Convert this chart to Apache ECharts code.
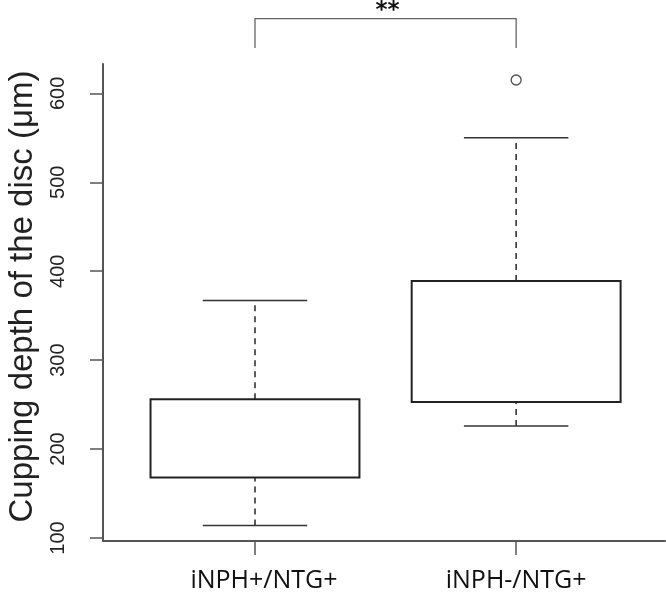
<!DOCTYPE html>
<html>
<head>
<meta charset="utf-8">
<script src="https://cdn.jsdelivr.net/npm/echarts@6/dist/echarts.min.js"></script>
<style>
  html, body { margin: 0; padding: 0; background: #fff; }
  #chart { width: 666px; height: 596px; }
</style>
</head>
<body>
<div id="chart"></div>
<script>
// ---- data ----
const categories = ['iNPH+/NTG+', 'iNPH-/NTG+'];
const lowerWhisker = [114, 226];
const lowerQuartile = [168, 253];
const upperQuartile = [256, 389];
const upperWhisker = [367, 550];
const outlierGroup = [2];        // 1-based group index
const outlierValue = [615];
const yTicks = [100, 200, 300, 400, 500, 600];
const significanceLabel = '**';
const yTitle = 'Cupping depth of the disc (\u03bcm)';

// ---- build series data ----
const boxData = categories.map((c, i) => [i + 1, lowerWhisker[i], lowerQuartile[i], upperQuartile[i], upperWhisker[i]]);
const outlierData = outlierGroup.map((g, i) => [g, outlierValue[i]]);

const BOX_W = 0.8, STAPLE_W = 0.4;

const chart = echarts.init(document.getElementById('chart'), null, { renderer: 'canvas' });

const option = {
  animation: false,
  backgroundColor: '#ffffff',
  grid: { left: 103, top: 64, right: 1, bottom: 55, containLabel: false, outerBoundsMode: 'none' },
  xAxis: {
    type: 'value',
    min: 0.418,
    max: 2.57,
    splitLine: { show: false },
    axisLine: { show: true, onZero: false, lineStyle: { color: '#555', width: 2 } },
    axisTick: { show: true, length: 14, customValues: [1, 2], lineStyle: { color: '#555', width: 1.5 } },
    axisLabel: {
      customValues: [1, 2],
      formatter: v => {
        const i = Math.round(v) - 1;
        return i === 0 ? '{first|' + categories[i] + '}' : (categories[i] || '');
      },
      rich: { first: { fontFamily: 'Open Sans', fontSize: 25, color: '#111', padding: [0, 0, 0, 18] } },
      fontFamily: 'Open Sans',
      fontSize: 25,
      color: '#111',
      margin: 27
    }
  },
  yAxis: {
    type: 'value',
    min: 96.6,
    max: 633,
    splitLine: { show: false },
    axisLine: { show: true, onZero: false, lineStyle: { color: '#555', width: 2 } },
    axisTick: { show: true, length: 13, customValues: yTicks, lineStyle: { color: '#555', width: 1.5 } },
    axisLabel: {
      customValues: yTicks,
      rotate: 90,
      fontFamily: 'Liberation Sans',
      fontSize: 20,
      color: '#222',
      margin: 35
    },
    name: yTitle,
    nameLocation: 'middle',
    nameRotate: 90,
    nameGap: 64,
    nameTextStyle: { fontFamily: 'Liberation Sans', fontSize: 33, color: '#222', padding: [0, 0, 0, 12] }
  },
  series: [
    {
      type: 'custom',
      data: boxData,
      encode: { x: 0, y: [1, 2, 3, 4] },
      renderItem: function (params, api) {
        const x = api.value(0);
        const lw = api.value(1), q1 = api.value(2), q3 = api.value(3), uw = api.value(4);
        const pL = api.coord([x - BOX_W / 2, q3]);
        const pR = api.coord([x + BOX_W / 2, q1]);
        const pc = api.coord([x, lw]);
        const pLow = api.coord([x, lw]);
        const pQ1 = api.coord([x, q1]);
        const pQ3 = api.coord([x, q3]);
        const pUp = api.coord([x, uw]);
        const sL = api.coord([x - STAPLE_W / 2, lw])[0];
        const sR = api.coord([x + STAPLE_W / 2, lw])[0];
        const dash = { stroke: '#333', lineWidth: 1.6, lineDash: [6, 5] };
        const solid = { stroke: '#333', lineWidth: 1.6 };
        return {
          type: 'group',
          children: [
            { type: 'line', shape: { x1: pc[0], y1: pLow[1], x2: pc[0], y2: pQ1[1] }, style: dash },
            { type: 'line', shape: { x1: pc[0], y1: pQ3[1], x2: pc[0], y2: pUp[1] }, style: dash },
            { type: 'line', shape: { x1: sL, y1: pLow[1], x2: sR, y2: pLow[1] }, style: solid },
            { type: 'line', shape: { x1: sL, y1: pUp[1], x2: sR, y2: pUp[1] }, style: solid },
            { type: 'rect', shape: { x: pL[0], y: pL[1], width: pR[0] - pL[0], height: pR[1] - pL[1] },
              style: { fill: 'rgba(255,255,255,0)', stroke: '#222', lineWidth: 2 } }
          ]
        };
      },
      z: 3
    },
    {
      type: 'scatter',
      data: outlierData,
      symbol: 'circle',
      symbolSize: 10,
      itemStyle: { color: 'rgba(255,255,255,0)', borderColor: '#222', borderWidth: 1.3 },
      z: 4
    }
  ]
};

chart.setOption(option);

// significance bracket between the two groups, placed above the plot area
const bracketTopValue = 684, bracketFootValue = 651;
const a = chart.convertToPixel({ xAxisIndex: 0, yAxisIndex: 0 }, [1, bracketTopValue]);
const b = chart.convertToPixel({ xAxisIndex: 0, yAxisIndex: 0 }, [2, bracketFootValue]);
const lineStyle = { stroke: '#666', lineWidth: 1.3 };
chart.setOption({
  graphic: [
    { type: 'polyline', shape: { points: [[a[0], b[1]], [a[0], a[1]], [b[0], a[1]], [b[0], b[1]]] }, style: Object.assign({ fill: null }, lineStyle) },
    { type: 'text', x: (a[0] + b[0]) / 2 + 2, y: 0,
      style: { text: significanceLabel, fontFamily: 'DejaVu Sans', fontWeight: 'bold', fontSize: 23, fill: '#111', align: 'center', verticalAlign: 'top' } }
  ]
});
</script>
</body>
</html>
